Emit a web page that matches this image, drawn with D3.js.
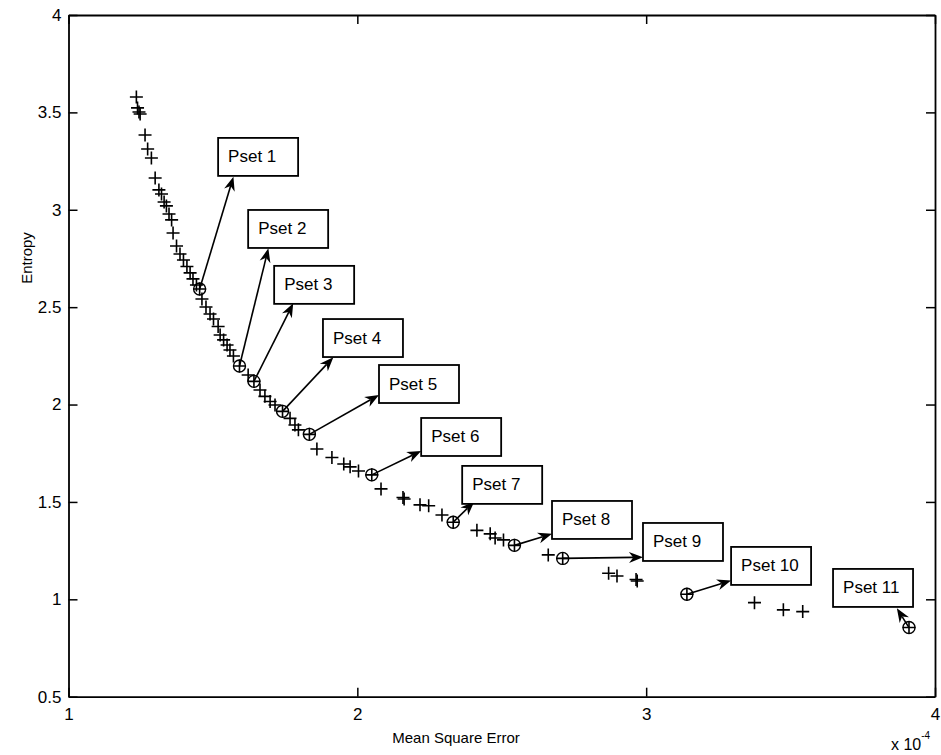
<!DOCTYPE html>
<html>
<head>
<meta charset="utf-8">
<script src="https://cdn.jsdelivr.net/npm/d3@7"></script>
<style>
  body { margin: 0; background: #fff; }
  text { font-family: "Liberation Sans", Arial, Helvetica, sans-serif; fill: #000; }
</style>
</head>
<body>
<div id="chart"></div>
<script>
// pareto front points (mse in units of 1e-4)
const mse = [1.235, 1.239, 1.244, 1.248, 1.265, 1.274, 1.287, 1.300, 1.313, 1.322,
    1.331, 1.339, 1.348, 1.357, 1.362, 1.374, 1.386, 1.398, 1.410, 1.421,
    1.431, 1.443, 1.454, 1.462, 1.476, 1.490, 1.502, 1.518, 1.525, 1.537,
    1.549, 1.559, 1.571, 1.592, 1.622, 1.642, 1.663, 1.680, 1.698, 1.715,
    1.741, 1.767, 1.784, 1.796, 1.834, 1.860, 1.912, 1.953, 1.975, 2.004,
    2.050, 2.082, 2.158, 2.162, 2.217, 2.247, 2.293, 2.332, 2.414, 2.460,
    2.477, 2.506, 2.544, 2.661, 2.711, 2.870, 2.899, 2.965, 2.969, 3.141,
    3.375, 3.475, 3.542, 3.910];
const entropy = [3.579, 3.523, 3.502, 3.492, 3.384, 3.312, 3.266, 3.163, 3.102, 3.081,
    3.040, 3.020, 2.978, 2.948, 2.881, 2.814, 2.773, 2.742, 2.709, 2.676,
    2.645, 2.614, 2.593, 2.542, 2.501, 2.465, 2.439, 2.401, 2.357, 2.332,
    2.306, 2.280, 2.249, 2.198, 2.152, 2.119, 2.075, 2.042, 2.016, 1.998,
    1.965, 1.929, 1.895, 1.870, 1.847, 1.772, 1.728, 1.695, 1.680, 1.659,
    1.639, 1.567, 1.523, 1.515, 1.485, 1.480, 1.433, 1.396, 1.354, 1.336,
    1.315, 1.305, 1.277, 1.228, 1.210, 1.134, 1.120, 1.102, 1.094, 1.026,
    0.983, 0.946, 0.937, 0.855];

// selected parameter sets
const psetNames = ["Pset 1", "Pset 2", "Pset 3", "Pset 4", "Pset 5", "Pset 6",
    "Pset 7", "Pset 8", "Pset 9", "Pset 10", "Pset 11"];
const psetMse = [1.454, 1.592, 1.642, 1.741, 1.834, 2.050, 2.332, 2.544, 2.711, 3.141, 3.910];
const psetEntropy = [2.593, 2.198, 2.119, 1.965, 1.847, 1.639, 1.396, 1.277, 1.210, 1.026, 0.855];

// annotation arrow heads and text boxes (data coords)
const tipMse = [1.571, 1.692, 1.778, 1.917, 2.075, 2.221, 2.405, 2.674, 2.989, 3.294, 3.868];
const tipEntropy = [3.170, 2.802, 2.520, 2.243, 2.049, 1.762, 1.502, 1.336, 1.216, 1.096, 0.954];
const boxMse = [1.518, 1.622, 1.712, 1.881, 2.075, 2.221, 2.363, 2.674, 2.989, 3.294, 3.647];
const boxEntropy = [3.369, 2.999, 2.712, 2.439, 2.203, 1.931, 1.685, 1.505, 1.392, 1.269, 1.156];

const xTicks = [1, 2, 3, 4];
const yTicks = [0.5, 1, 1.5, 2, 2.5, 3, 3.5, 4];

const W = 941, H = 755;
const margin = { top: 15, right: 6, bottom: 58.3, left: 68.5 };
const width = W - margin.left - margin.right;
const height = H - margin.top - margin.bottom;

const x = d3.scaleLinear().domain([1, 4]).range([0, width]);
const y = d3.scaleLinear().domain([0.5, 4]).range([height, 0]);

const svg = d3.select("#chart").append("svg")
    .attr("width", W)
    .attr("height", H);

const g = svg.append("g")
    .attr("transform", `translate(${margin.left},${margin.top})`);

// axes box with inward ticks on all sides
const tickLen = 9;
const fmt = d => String(d);

g.append("g")
    .attr("transform", `translate(0,${height})`)
    .call(d3.axisBottom(x).tickValues(xTicks).tickSizeInner(-tickLen).tickSizeOuter(0).tickPadding(11).tickFormat(fmt));
g.append("g")
    .call(d3.axisTop(x).tickValues(xTicks).tickSizeInner(-tickLen).tickSizeOuter(0).tickFormat(""));
g.append("g")
    .call(d3.axisLeft(y).tickValues(yTicks).tickSizeInner(-tickLen).tickSizeOuter(0).tickPadding(7).tickFormat(fmt));
g.append("g")
    .attr("transform", `translate(${width},0)`)
    .call(d3.axisRight(y).tickValues(yTicks).tickSizeInner(-tickLen).tickSizeOuter(0).tickFormat(""));

g.selectAll(".domain").attr("stroke", "#000").attr("stroke-width", 1.8);
g.selectAll(".tick line").attr("stroke", "#000").attr("stroke-width", 1.5);
g.selectAll(".tick text")
    .style("font-family", '"Liberation Sans", Arial, sans-serif')
    .style("font-size", "17px")
    .attr("fill", "#000");

// axis labels
svg.append("text")
    .attr("x", 456)
    .attr("y", 743)
    .attr("text-anchor", "middle")
    .style("font-size", "15px")
    .text("Mean Square Error");

svg.append("text")
    .attr("transform", "translate(32,258) rotate(-90)")
    .attr("text-anchor", "middle")
    .style("font-size", "15px")
    .text("Entropy");

const expo = svg.append("text")
    .attr("x", 891)
    .attr("y", 750)
    .style("font-size", "16px");
expo.append("tspan").text("x 10");
expo.append("tspan").attr("dy", -11).style("font-size", "10px").text("-4");

// plus markers
const ms = 6.5;
g.append("g")
    .selectAll("path")
    .data(mse.map((m, i) => [m, entropy[i]]))
    .join("path")
    .attr("d", d => {
        const px = x(d[0]), py = y(d[1]);
        return `M${px - ms},${py}H${px + ms}M${px},${py - ms}V${py + ms}`;
    })
    .attr("stroke", "#000")
    .attr("stroke-width", 1.6)
    .attr("fill", "none");

// circles on the chosen sets
g.append("g")
    .selectAll("circle")
    .data(psetMse.map((m, i) => [m, psetEntropy[i]]))
    .join("circle")
    .attr("cx", d => x(d[0]))
    .attr("cy", d => y(d[1]))
    .attr("r", 6)
    .attr("fill", "none")
    .attr("stroke", "#000")
    .attr("stroke-width", 1.4);

// arrows
const headLen = 14, headW = 5.5;
const ann = g.append("g");
psetNames.forEach((name, i) => {
    const x0 = x(psetMse[i]), y0 = y(psetEntropy[i]);
    const x1 = x(tipMse[i]), y1 = y(tipEntropy[i]);
    const dx = x1 - x0, dy = y1 - y0;
    const len = Math.hypot(dx, dy);
    const ux = dx / len, uy = dy / len;
    const nx = -uy, ny = ux;
    const bx = x1 - ux * headLen, by = y1 - uy * headLen;
    const kx = x1 - ux * headLen * 0.7, ky = y1 - uy * headLen * 0.7;

    ann.append("line")
        .attr("x1", x0).attr("y1", y0)
        .attr("x2", kx).attr("y2", ky)
        .attr("stroke", "#000")
        .attr("stroke-width", 1.6);

    ann.append("path")
        .attr("d", `M${x1},${y1}L${bx + nx * headW},${by + ny * headW}L${kx},${ky}L${bx - nx * headW},${by - ny * headW}Z`)
        .attr("fill", "#000");
});

// text boxes
psetNames.forEach((name, i) => {
    const bx = x(boxMse[i]), by = y(boxEntropy[i]);
    const grp = ann.append("g").attr("transform", `translate(${bx},${by})`);
    const rect = grp.append("rect")
        .attr("height", 38)
        .attr("fill", "#fff")
        .attr("stroke", "#000")
        .attr("stroke-width", 1.8);
    const t = grp.append("text")
        .attr("x", 10)
        .attr("y", 24.5)
        .style("font-size", "17px")
        .text(name);
    const tw = t.node().getComputedTextLength();
    rect.attr("width", Math.max(80, tw + 22));
});
</script>
</body>
</html>
